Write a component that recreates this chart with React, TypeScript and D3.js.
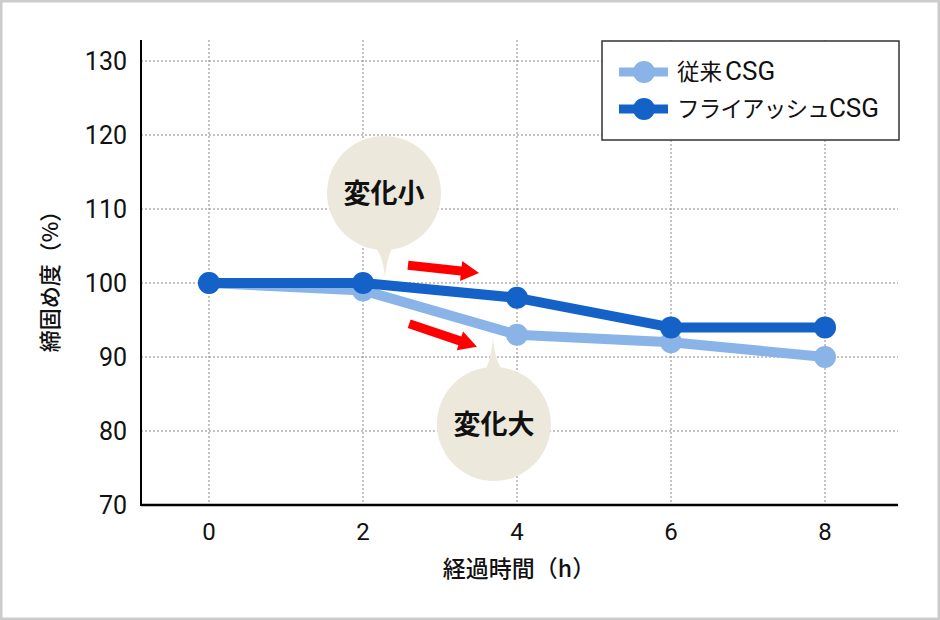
import React from "react";
import * as d3 from "d3";

const hours = [0, 2, 4, 6, 8];
const conventional = [100, 99, 93, 92, 90];
const flyash = [100, 100, 98, 94, 94];
const yTicks = [70, 80, 90, 100, 110, 120, 130];
const seriesNamesJa = ["従来", "フライアッシュ"];
const seriesNamesEn = ["CSG", "CSG"];
const seriesColors = ["#8ab4e8", "#1462c8"];
const bubbleLabels = ["変化小", "変化大"];
// bubble centres / pointer tips in data units (hours, %)
const bubbleCenters = [[2.273, 112.16], [3.7, 80.95]];
const bubbleTips = [[2.286, 100.68], [3.688, 92.6]];
// arrows: tail and tip in data units
const arrowTails = [[2.584, 102.4], [2.6, 94.5]];
const arrowHeads = [[3.507, 101.35], [3.48, 91.4]];

const W = 940;
const H = 620;
const FONT = "Roboto, 'Noto Sans CJK JP', sans-serif";
const JFONT = "'Noto Sans CJK JP', Roboto, sans-serif";

export default function App() {
  const x = d3.scaleLinear().domain([-0.883, 8.948]).range([141, 898]);
  const y = d3.scaleLinear().domain([70, 130]).range([505, 61]);
  const [x0, x1] = x.range();
  const yBottom = y(70);
  const yTop = y.range()[1] - 21;

  const line = d3
    .line<number>()
    .x((_, i) => x(hours[i]))
    .y((v) => y(v));

  const series = [conventional, flyash];

  const arrowPath = (t: number[], h: number[]) => {
    const ax = x(t[0]), ay = y(t[1]);
    const bx = x(h[0]), by = y(h[1]);
    const dx = bx - ax, dy = by - ay;
    const len = Math.hypot(dx, dy);
    const ux = dx / len, uy = dy / len;
    const nx = -uy, ny = ux;
    const hw = 4.5, headW = 10, headL = 18;
    const bl = len - headL;
    const p = (s: number, n: number) => [ax + ux * s + nx * n, ay + uy * s + ny * n];
    const pts = [p(0, -hw), p(bl, -hw), p(bl, -headW), p(len, 0), p(bl, headW), p(bl, hw), p(0, hw)];
    return "M" + pts.map((q) => q.join(",")).join("L") + "Z";
  };

  const bubblePath = (c: number[], tip: number[], r: number) => {
    const cx = x(c[0]), cy = y(c[1]);
    const tx = x(tip[0]), ty = y(tip[1]);
    const dir = ty > cy ? 1 : -1;
    const by = cy + dir * (r - 6);
    return `M${cx - 11},${by} Q${tx - 2},${by + dir * 10} ${tx},${ty} Q${tx + 2},${by + dir * 10} ${cx + 11},${by} Z`;
  };

  return (
    <svg
      width={W}
      height={H}
      style={{ position: "absolute", left: 0, top: 0, background: "#fff" }}
    >
      <rect x={1.25} y={1.25} width={W - 2.5} height={H - 2.5} fill="#fff" stroke="#cccccc" strokeWidth={2.5} />

      {/* grid */}
      {yTicks.filter((t) => t > 70).map((t) => (
        <line key={"gy" + t} x1={x0} x2={x1} y1={y(t)} y2={y(t)} stroke="#888" strokeWidth={1} strokeDasharray="2,2" />
      ))}
      {hours.map((h) => (
        <line key={"gx" + h} x1={x(h)} x2={x(h)} y1={yTop} y2={yBottom} stroke="#888" strokeWidth={1} strokeDasharray="2,2" />
      ))}

      {/* axes */}
      <line x1={x0} x2={x0} y1={yTop} y2={yBottom + 1} stroke="#000" strokeWidth={2} />
      <line x1={x0} x2={x1} y1={yBottom} y2={yBottom} stroke="#000" strokeWidth={2.5} />

      {yTicks.map((t) => (
        <text key={"ty" + t} x={127} y={y(t)} dy="0.36em" textAnchor="end" fontFamily={FONT} fontSize={25} fill="#111">
          {t}
        </text>
      ))}
      {hours.map((h) => (
        <text key={"tx" + h} x={x(h)} y={540} textAnchor="middle" fontFamily={FONT} fontSize={24} fill="#111">
          {h}
        </text>
      ))}

      <text x={519} y={577} textAnchor="middle" fontFamily={JFONT} fontSize={23} fontWeight={500} fill="#111">
        経過時間（h）
      </text>
      <text
        transform={`translate(58,${276}) rotate(-90)`}
        textAnchor="middle"
        fontFamily={JFONT}
        fontSize={22}
        fontWeight={500}
        fill="#111"
      >
        締固め度（%）
      </text>

      {/* bubbles */}
      {bubbleLabels.map((lab, i) => (
        <g key={"b" + i}>
          <path d={bubblePath(bubbleCenters[i], bubbleTips[i], 57)} fill="#ece9dc" />
          <circle cx={x(bubbleCenters[i][0])} cy={y(bubbleCenters[i][1])} r={57} fill="#ece9dc" />
          <text
            x={x(bubbleCenters[i][0])}
            y={y(bubbleCenters[i][1])}
            dy="0.36em"
            textAnchor="middle"
            fontFamily={JFONT}
            fontSize={27}
            fontWeight={700}
            fill="#111"
          >
            {lab}
          </text>
        </g>
      ))}

      {/* arrows */}
      {arrowTails.map((t, i) => (
        <path key={"a" + i} d={arrowPath(t, arrowHeads[i])} fill="#ff0000" />
      ))}

      {/* series */}
      {series.map((s, si) => (
        <g key={"s" + si}>
          <path d={line(s) || ""} fill="none" stroke={seriesColors[si]} strokeWidth={10} strokeLinejoin="round" />
          {s.map((v, i) => (
            <circle key={i} cx={x(hours[i])} cy={y(v)} r={11} fill={seriesColors[si]} />
          ))}
        </g>
      ))}

      {/* legend */}
      <rect x={602} y={41} width={297} height={99} fill="#fff" stroke="#333" strokeWidth={1.5} />
      {seriesNamesJa.map((n, i) => {
        const ly = 72 + i * 37;
        return (
          <g key={"l" + i}>
            <line x1={619} x2={668} y1={ly} y2={ly} stroke={seriesColors[i]} strokeWidth={9} />
            <circle cx={644} cy={ly} r={11} fill={seriesColors[i]} />
            <text x={677} y={ly} dy="0.36em" fontFamily={JFONT} fontSize={22.5} fill="#111">
              <tspan letterSpacing={i === 1 ? -0.8 : 0}>{n}</tspan>
              <tspan fontFamily={FONT} fontSize={26} dx={i === 1 ? 0 : 3}>
                {seriesNamesEn[i]}
              </tspan>
            </text>
          </g>
        );
      })}
    </svg>
  );
}
